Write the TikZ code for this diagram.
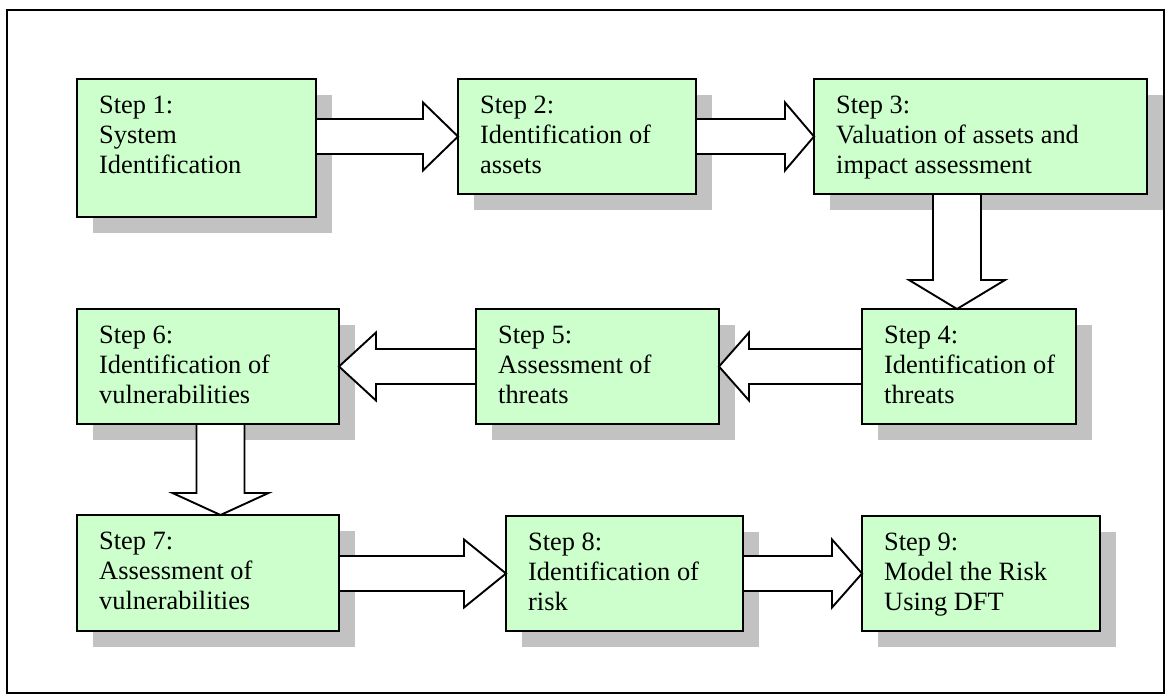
\documentclass[tikz,border=0pt]{standalone}
\usepackage{fontspec}
\setmainfont{Liberation Serif}
\usetikzlibrary{calc,shadows}
\definecolor{boxgreen}{RGB}{204,255,204}
\definecolor{shadowgray}{RGB}{194,194,194}

\tikzset{
  stepbox/.style={draw=black, line width=2pt, fill=boxgreen, anchor=north west,
    outer sep=0pt, inner sep=0pt,
    drop shadow={shadow xshift=16pt, shadow yshift=-16pt, fill=shadowgray, opacity=1}},
  steptext/.style={anchor=north west, inner sep=0pt, align=left,
    font=\fontsize{26.4}{30}\selectfont},
  blockarrow/.style={draw=black, line width=1.9pt, fill=white, line join=miter}
}

% horizontal block arrow: #1 start anchor, #2 tip anchor, #3 head length
\newcommand\hblock[3]{%
  \draw[blockarrow] let \p1=(#1), \p2=(#2), \n1={sign(\x2-\x1)} in
    (\x1,\y2+17.5pt) -- (\x2-\n1*#3pt,\y2+17.5pt) -- (\x2-\n1*#3pt,\y2+34pt)
    -- (\x2,\y2) -- (\x2-\n1*#3pt,\y2-34pt) -- (\x2-\n1*#3pt,\y2-17.5pt)
    -- (\x1,\y2-17.5pt) -- cycle;}
% downward block arrow: #1 start anchor, #2 tip anchor, #3 axis x, #4 head length
\newcommand\vblock[4]{%
  \draw[blockarrow] let \p1=(#1), \p2=(#2), \p3=(#3,0) in
    (\x3-24pt,\y1) -- (\x3-24pt,\y2+#4pt) -- (\x3-48pt,\y2+#4pt)
    -- (\x3,\y2) -- (\x3+48pt,\y2+#4pt) -- (\x3+24pt,\y2+#4pt)
    -- (\x3+24pt,\y1) -- cycle;}

\begin{document}
\begin{tikzpicture}[x=1pt, y=-1pt]
\useasboundingbox (0,0) rectangle (1168,698);
\draw[line width=2.6pt] (7,10) rectangle (1164,693);

% step boxes
\node[stepbox, minimum width=239pt, minimum height=138pt] (s1) at (77,79) {};
\node[stepbox, minimum width=238pt, minimum height=115pt] (s2) at (458,79) {};
\node[stepbox, minimum width=333pt, minimum height=115pt] (s3) at (814,79) {};
\node[stepbox, minimum width=214pt, minimum height=115pt] (s4) at (862,309) {};
\node[stepbox, minimum width=243pt, minimum height=115pt] (s5) at (476,309) {};
\node[stepbox, minimum width=262pt, minimum height=115pt] (s6) at (77,309) {};
\node[stepbox, minimum width=262pt, minimum height=116pt] (s7) at (77,515) {};
\node[stepbox, minimum width=237pt, minimum height=115pt] (s8) at (506,516) {};
\node[stepbox, minimum width=238pt, minimum height=115pt] (s9) at (862,516) {};

% step texts
\node[steptext] (t1) at ($(s1.north west)+(22,17)$) {Step 1:\\System\\Identification};
\node[steptext] (t2) at ($(s2.north west)+(22,17)$) {Step 2:\\Identification of\\assets};
\node[steptext] (t3) at ($(s3.north west)+(22,17)$) {Step 3:\\Valuation of assets and\\impact assessment};
\node[steptext] (t4) at ($(s4.north west)+(22,17)$) {Step 4:\\Identification of\\threats};
\node[steptext] (t5) at ($(s5.north west)+(22,17)$) {Step 5:\\Assessment of\\threats};
\node[steptext] (t6) at ($(s6.north west)+(22,17)$) {Step 6:\\Identification of\\vulnerabilities};
\node[steptext] (t7) at ($(s7.north west)+(22,17)$) {Step 7:\\Assessment of\\vulnerabilities};
\node[steptext] (t8) at ($(s8.north west)+(22,17)$) {Step 8:\\Identification of\\risk};
\node[steptext] (t9) at ($(s9.north west)+(22,17)$) {Step 9:\\Model the Risk\\Using DFT};

% block arrows between the steps
\hblock{s1.east}{s2.west}{35}
\hblock{s2.east}{s3.west}{29}
\vblock{s3.south}{s4.north}{957}{29}
\hblock{s4.west}{s5.east}{30}
\hblock{s5.west}{s6.east}{37}
\vblock{s6.south}{s7.north}{220.5}{22}
\hblock{s7.east}{s8.west}{42}
\hblock{s8.east}{s9.west}{30}
\end{tikzpicture}
\end{document}
